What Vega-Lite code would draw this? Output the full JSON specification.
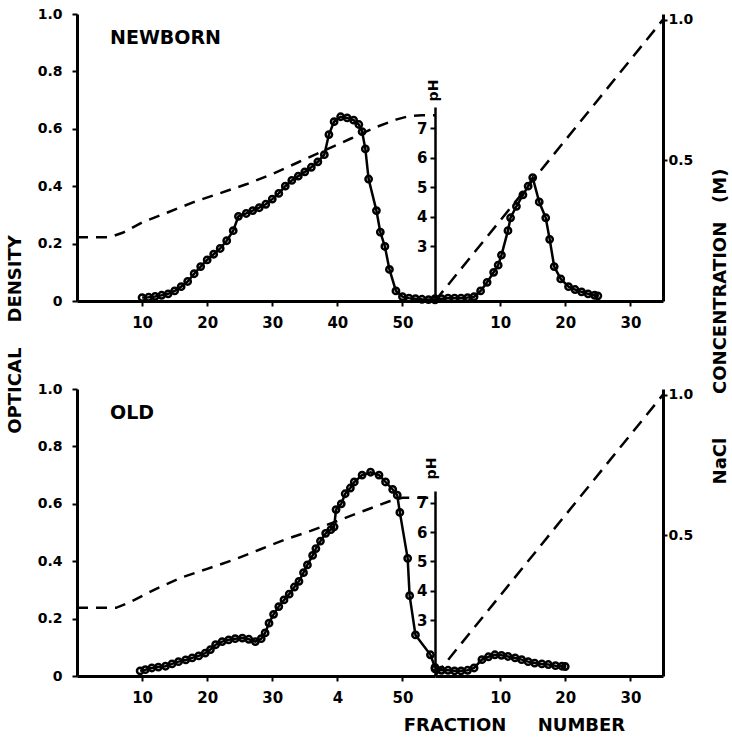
{
  "$schema": "https://vega.github.io/schema/vega-lite/v6.json",
  "padding": {"left": 6, "top": 7, "right": 0, "bottom": 0},
  "background": "white",
  "config": {
    "view": {"stroke": null},
    "font": "DejaVu Sans",
    "axis": {"labelFont": "DejaVu Sans", "labelFontWeight": "bold", "labelFontSize": 14, "labelColor": "black", "domainColor": "black", "domainWidth": 2.5, "tickColor": "black", "tickWidth": 2, "tickSize": 5, "grid": false, "labelFlush": false, "labelOverlap": false, "titleFont": "DejaVu Sans", "titleFontWeight": "bold", "titleColor": "black"},
    "title": {"font": "DejaVu Sans", "fontWeight": "bold", "color": "black"}
  },
  "datasets": {
    "nb_od_a": [{"fraction":10,"od":0.012},{"fraction":11,"od":0.013},{"fraction":12,"od":0.016},{"fraction":13,"od":0.02},{"fraction":14,"od":0.025},{"fraction":15,"od":0.035},{"fraction":16,"od":0.05},{"fraction":17,"od":0.068},{"fraction":18,"od":0.095},{"fraction":19,"od":0.12},{"fraction":20,"od":0.143},{"fraction":21,"od":0.163},{"fraction":22,"od":0.183},{"fraction":23,"od":0.21},{"fraction":24,"od":0.245},{"fraction":24.8,"od":0.295},{"fraction":26,"od":0.305},{"fraction":27,"od":0.315},{"fraction":28,"od":0.325},{"fraction":29,"od":0.337},{"fraction":30,"od":0.355},{"fraction":31,"od":0.375},{"fraction":32,"od":0.4},{"fraction":33,"od":0.42},{"fraction":34,"od":0.435},{"fraction":35,"od":0.45},{"fraction":36,"od":0.466},{"fraction":37,"od":0.485},{"fraction":38,"od":0.51},{"fraction":38.7,"od":0.58},{"fraction":39.5,"od":0.625},{"fraction":40.5,"od":0.642},{"fraction":41.5,"od":0.638},{"fraction":42.5,"od":0.63},{"fraction":43.3,"od":0.615},{"fraction":43.8,"od":0.59},{"fraction":44.3,"od":0.53},{"fraction":44.8,"od":0.425},{"fraction":46,"od":0.315},{"fraction":46.6,"od":0.24},{"fraction":47.3,"od":0.19},{"fraction":48,"od":0.11},{"fraction":49,"od":0.035},{"fraction":50,"od":0.015},{"fraction":51,"od":0.01},{"fraction":52,"od":0.008},{"fraction":53,"od":0.006},{"fraction":54,"od":0.005},{"fraction":55,"od":0.004}],
    "nb_ph": [{"fraction":0,"ph":3.3},{"fraction":5,"ph":3.3},{"fraction":7,"ph":3.45},{"fraction":10,"ph":3.8},{"fraction":14,"ph":4.15},{"fraction":18,"ph":4.5},{"fraction":22,"ph":4.8},{"fraction":26,"ph":5.1},{"fraction":30,"ph":5.45},{"fraction":34,"ph":5.85},{"fraction":38,"ph":6.25},{"fraction":42,"ph":6.65},{"fraction":46,"ph":7.05},{"fraction":49,"ph":7.3},{"fraction":51,"ph":7.42},{"fraction":53,"ph":7.45},{"fraction":55,"ph":7.45}],
    "nb_od_b": [{"fraction":0,"od":0.008},{"fraction":1,"od":0.008},{"fraction":2,"od":0.01},{"fraction":3,"od":0.01},{"fraction":4,"od":0.01},{"fraction":5,"od":0.012},{"fraction":6,"od":0.015},{"fraction":7,"od":0.035},{"fraction":8,"od":0.065},{"fraction":9,"od":0.1},{"fraction":9.7,"od":0.125},{"fraction":10.2,"od":0.16},{"fraction":11.2,"od":0.245},{"fraction":11.6,"od":0.29},{"fraction":12.5,"od":0.33},{"fraction":13.5,"od":0.37},{"fraction":14.3,"od":0.4},{"fraction":15,"od":0.43},{"fraction":16,"od":0.345},{"fraction":17,"od":0.29},{"fraction":17.6,"od":0.215},{"fraction":18.3,"od":0.12},{"fraction":19.3,"od":0.077},{"fraction":20.5,"od":0.05},{"fraction":21.5,"od":0.04},{"fraction":22.5,"od":0.032},{"fraction":23.5,"od":0.025},{"fraction":24.5,"od":0.02},{"fraction":25,"od":0.018}],
    "nb_nacl": [{"fraction":0,"nacl":0},{"fraction":35,"nacl":1.0}],
    "old_od_a": [{"fraction":9.7,"od":0.018},{"fraction":10.5,"od":0.022},{"fraction":11.5,"od":0.028},{"fraction":12.5,"od":0.031},{"fraction":13.6,"od":0.034},{"fraction":14.6,"od":0.042},{"fraction":15.6,"od":0.05},{"fraction":16.7,"od":0.056},{"fraction":17.7,"od":0.063},{"fraction":18.7,"od":0.07},{"fraction":19.7,"od":0.08},{"fraction":20.5,"od":0.092},{"fraction":21.3,"od":0.109},{"fraction":22.3,"od":0.12},{"fraction":23.3,"od":0.126},{"fraction":24.3,"od":0.13},{"fraction":25.4,"od":0.132},{"fraction":26.4,"od":0.128},{"fraction":27.4,"od":0.12},{"fraction":28.3,"od":0.13},{"fraction":28.9,"od":0.15},{"fraction":29.5,"od":0.184},{"fraction":30.2,"od":0.215},{"fraction":31,"od":0.242},{"fraction":31.8,"od":0.265},{"fraction":32.6,"od":0.285},{"fraction":33.4,"od":0.31},{"fraction":34.1,"od":0.33},{"fraction":34.8,"od":0.36},{"fraction":35.4,"od":0.387},{"fraction":36.2,"od":0.42},{"fraction":36.7,"od":0.444},{"fraction":37.4,"od":0.47},{"fraction":38.2,"od":0.497},{"fraction":39,"od":0.51},{"fraction":39.5,"od":0.52},{"fraction":39.8,"od":0.58},{"fraction":40.6,"od":0.6},{"fraction":41.2,"od":0.635},{"fraction":42,"od":0.655},{"fraction":42.6,"od":0.676},{"fraction":43.8,"od":0.7},{"fraction":45.1,"od":0.71},{"fraction":46.4,"od":0.7},{"fraction":47.4,"od":0.676},{"fraction":48.5,"od":0.65},{"fraction":49.2,"od":0.63},{"fraction":49.6,"od":0.57},{"fraction":50.8,"od":0.41},{"fraction":51.1,"od":0.28},{"fraction":52,"od":0.143},{"fraction":54.3,"od":0.074},{"fraction":55,"od":0.03}],
    "old_ph": [{"fraction":0,"ph":3.42},{"fraction":6,"ph":3.42},{"fraction":8,"ph":3.6},{"fraction":12,"ph":4.05},{"fraction":16,"ph":4.45},{"fraction":20,"ph":4.75},{"fraction":24,"ph":5.05},{"fraction":28,"ph":5.4},{"fraction":32,"ph":5.75},{"fraction":36,"ph":6.05},{"fraction":40,"ph":6.38},{"fraction":44,"ph":6.72},{"fraction":48,"ph":7.05},{"fraction":50,"ph":7.17},{"fraction":55,"ph":7.17}],
    "old_od_b": [{"fraction":0,"od":0.025},{"fraction":1,"od":0.02},{"fraction":2,"od":0.02},{"fraction":3,"od":0.018},{"fraction":4,"od":0.018},{"fraction":5,"od":0.02},{"fraction":6,"od":0.028},{"fraction":7.2,"od":0.057},{"fraction":8.2,"od":0.067},{"fraction":9.2,"od":0.074},{"fraction":10.2,"od":0.072},{"fraction":11.2,"od":0.068},{"fraction":12.3,"od":0.063},{"fraction":13.3,"od":0.057},{"fraction":14.3,"od":0.05},{"fraction":15.3,"od":0.045},{"fraction":16.4,"od":0.042},{"fraction":17.4,"od":0.04},{"fraction":18.5,"od":0.036},{"fraction":19.5,"od":0.034},{"fraction":20,"od":0.033}],
    "old_nacl": [{"fraction":0,"nacl":0},{"fraction":35,"nacl":1.0}]
  },
  "spacing": 375,
  "bounds": "flush",
  "vconcat": [
    {
      "spacing": 0,
      "bounds": "flush",
      "hconcat": [
        {
          "width": 358, "height": 287,
          "title": {"text": "NEWBORN", "anchor": "start", "frame": "group", "orient": "top", "fontSize": 19, "dx": 33, "dy": 41, "offset": 0},
          "encoding": {"x": {"field": "fraction", "type": "quantitative", "scale": {"domain": [0, 55], "nice": false, "zero": false}, "axis": {"values": [10, 20, 30, 40, 50], "title": null, "labelFontSize": 15, "labelPadding": 9, "domainWidth": 3}}},
          "layer": [
            {"data": {"name": "nb_ph"}, "mark": {"type": "line", "color": "black", "strokeWidth": 2.5, "strokeDash": [11, 8]},
             "encoding": {"y": {"field": "ph", "type": "quantitative", "scale": {"domain": [1.13, 7.73], "range": [287, 93], "nice": false, "zero": false}, "axis": {"orient": "right", "values": [3, 4, 5, 6, 7], "tickSize": -5, "labelPadding": -3, "labelAlign": "right", "labelFontSize": 15, "title": "pH", "titleAngle": 270, "titleX": -2, "titleY": 76, "titleAlign": "center", "titleBaseline": "middle", "titleFontSize": 14}}}},
            {"data": {"name": "nb_od_a"}, "mark": {"type": "line", "color": "black", "strokeWidth": 2.5},
             "encoding": {"y": {"field": "od", "type": "quantitative", "scale": {"domain": [0, 1], "nice": false}, "axis": {"orient": "left", "values": [0, 0.2, 0.4, 0.6, 0.8, 1.0], "labelExpr": "datum.value == 0 ? '0' : format(datum.value, '.1f')", "labelPadding": 10, "domainWidth": 3, "title": "OPTICAL\u00a0\u00a0\u00a0\u00a0DENSITY", "titleAngle": 270, "titleX": -62, "titleY": 320, "titleAlign": "center", "titleBaseline": "middle", "titleFontSize": 18}}}},
            {"data": {"name": "nb_od_a"}, "mark": {"type": "point", "filled": false, "color": "black", "size": 40, "strokeWidth": 2.5, "opacity": 1},
             "encoding": {"y": {"field": "od", "type": "quantitative", "scale": {"domain": [0, 1], "nice": false}, "axis": null}}}
          ],
          "resolve": {"scale": {"y": "independent"}, "axis": {"y": "independent"}}
        },
        {
          "width": 228, "height": 287,
          "encoding": {"x": {"field": "fraction", "type": "quantitative", "scale": {"domain": [0, 35], "nice": false, "zero": false}, "axis": {"values": [10, 20, 30], "title": null, "labelFontSize": 15, "labelPadding": 9, "domainWidth": 3}}},
          "layer": [
            {"data": {"name": "nb_nacl"}, "mark": {"type": "line", "color": "black", "strokeWidth": 2.5, "strokeDash": [13, 8]},
             "encoding": {"y": {"field": "nacl", "type": "quantitative", "scale": {"domain": [0, 1.02], "nice": false, "zero": false}, "axis": {"orient": "right", "values": [0.5, 1.0], "format": ".1f", "labelPadding": 1, "tickSize": 4, "domainWidth": 3, "title": "NaCl\u00a0\u00a0\u00a0\u00a0\u00a0\u00a0\u00a0CONCENTRATION\u00a0\u00a0\u00a0(M)", "titleAngle": 270, "titleX": 57, "titleY": 312, "titleAlign": "center", "titleBaseline": "middle", "titleFontSize": 18}}}},
            {"data": {"name": "nb_od_b"}, "mark": {"type": "line", "color": "black", "strokeWidth": 2.5},
             "encoding": {"y": {"field": "od", "type": "quantitative", "scale": {"domain": [0, 1], "nice": false}, "axis": null}}},
            {"data": {"name": "nb_od_b"}, "mark": {"type": "point", "filled": false, "color": "black", "size": 40, "strokeWidth": 2.5, "opacity": 1},
             "encoding": {"y": {"field": "od", "type": "quantitative", "scale": {"domain": [0, 1], "nice": false}, "axis": null}}}
          ],
          "resolve": {"scale": {"y": "independent"}, "axis": {"y": "independent"}}
        }
      ]
    },
    {
      "spacing": 0,
      "bounds": "flush",
      "hconcat": [
        {
          "width": 358, "height": 287,
          "title": {"text": "OLD", "anchor": "start", "frame": "group", "orient": "top", "fontSize": 19, "dx": 33, "dy": 41, "offset": 0},
          "encoding": {"x": {"field": "fraction", "type": "quantitative", "scale": {"domain": [0, 55], "nice": false, "zero": false}, "axis": {"values": [10, 20, 30, 40, 50], "labelExpr": "datum.value == 40 ? '4' : datum.label", "labelFontSize": 15, "labelPadding": 9, "domainWidth": 3, "title": "FRACTION\u00a0\u00a0\u00a0\u00a0\u00a0NUMBER", "titleX": 437, "titleY": 49, "titleAlign": "center", "titleBaseline": "middle", "titleFontSize": 18}}},
          "layer": [
            {"data": {"name": "old_ph"}, "mark": {"type": "line", "color": "black", "strokeWidth": 2.5, "strokeDash": [11, 8]},
             "encoding": {"y": {"field": "ph", "type": "quantitative", "scale": {"domain": [1.1, 7.4], "range": [287, 102], "nice": false, "zero": false}, "axis": {"orient": "right", "values": [3, 4, 5, 6, 7], "tickSize": -5, "labelPadding": -3, "labelAlign": "right", "labelFontSize": 15, "title": "pH", "titleAngle": 270, "titleX": -4, "titleY": 79, "titleAlign": "center", "titleBaseline": "middle", "titleFontSize": 14}}}},
            {"data": {"name": "old_od_a"}, "mark": {"type": "line", "color": "black", "strokeWidth": 2.5},
             "encoding": {"y": {"field": "od", "type": "quantitative", "scale": {"domain": [0, 1], "nice": false}, "axis": {"orient": "left", "values": [0, 0.2, 0.4, 0.6, 0.8, 1.0], "labelExpr": "datum.value == 0 ? '0' : format(datum.value, '.1f')", "labelPadding": 10, "domainWidth": 3, "title": null}}}},
            {"data": {"name": "old_od_a"}, "mark": {"type": "point", "filled": false, "color": "black", "size": 40, "strokeWidth": 2.5, "opacity": 1},
             "encoding": {"y": {"field": "od", "type": "quantitative", "scale": {"domain": [0, 1], "nice": false}, "axis": null}}}
          ],
          "resolve": {"scale": {"y": "independent"}, "axis": {"y": "independent"}}
        },
        {
          "width": 228, "height": 287,
          "encoding": {"x": {"field": "fraction", "type": "quantitative", "scale": {"domain": [0, 35], "nice": false, "zero": false}, "axis": {"values": [10, 20, 30], "title": null, "labelFontSize": 15, "labelPadding": 9, "domainWidth": 3}}},
          "layer": [
            {"data": {"name": "old_nacl"}, "mark": {"type": "line", "color": "black", "strokeWidth": 2.5, "strokeDash": [13, 8]},
             "encoding": {"y": {"field": "nacl", "type": "quantitative", "scale": {"domain": [0, 1.02], "nice": false, "zero": false}, "axis": {"orient": "right", "values": [0.5, 1.0], "format": ".1f", "labelPadding": 1, "tickSize": 4, "domainWidth": 3, "title": null}}}},
            {"data": {"name": "old_od_b"}, "mark": {"type": "line", "color": "black", "strokeWidth": 2.5},
             "encoding": {"y": {"field": "od", "type": "quantitative", "scale": {"domain": [0, 1], "nice": false}, "axis": null}}},
            {"data": {"name": "old_od_b"}, "mark": {"type": "point", "filled": false, "color": "black", "size": 40, "strokeWidth": 2.5, "opacity": 1},
             "encoding": {"y": {"field": "od", "type": "quantitative", "scale": {"domain": [0, 1], "nice": false}, "axis": null}}}
          ],
          "resolve": {"scale": {"y": "independent"}, "axis": {"y": "independent"}}
        }
      ]
    }
  ]
}
